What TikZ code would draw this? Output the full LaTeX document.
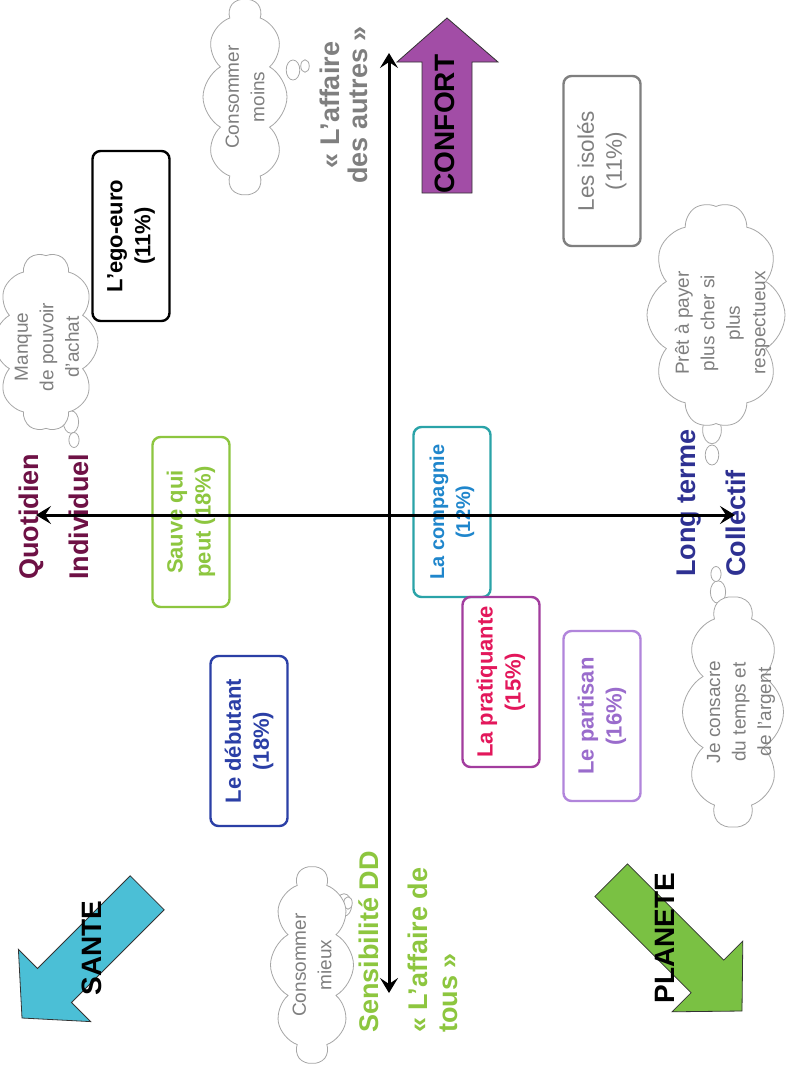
\documentclass[tikz,border=0pt]{standalone}
\usepackage{fontspec}
\setmainfont{Liberation Sans}
\usetikzlibrary{shapes.symbols,arrows.meta}
\definecolor{bordeaux}{HTML}{6E1145}
\definecolor{marine}{HTML}{2E3192}
\definecolor{vertdd}{HTML}{8DC63F}
\definecolor{gristxt}{HTML}{7F7F7F}
\definecolor{bleudeb}{HTML}{2B3FA6}
\definecolor{sarcelle}{HTML}{2AA3A8}
\definecolor{bleucomp}{HTML}{1F86CC}
\definecolor{violetpra}{HTML}{A23D9E}
\definecolor{rosepra}{HTML}{E3175B}
\definecolor{lilas}{HTML}{B185DB}
\definecolor{lilastxt}{HTML}{9A6CCC}
\definecolor{cyansante}{HTML}{4BBFD6}
\definecolor{vertplanete}{HTML}{7AC143}
\definecolor{violetconfort}{HTML}{A24DA6}

\begin{document}
\begin{tikzpicture}[x=1pt,y=-1pt,
	box/.style={draw,rounded corners=8pt,line width=2.4pt,rotate=90,minimum width=170pt,minimum height=77pt,align=center,font=\fontsize{22}{28}\selectfont\bfseries},
	bulle/.style={cloud,cloud puffs=10,cloud puff arc=120,cloud ignores aspect,draw=gray!70,fill=white,line width=0.8pt,rotate=90,inner sep=0pt},
	bulletxt/.style={rotate=90,align=center,text=gristxt,font=\fontsize{19}{25.5}\selectfont},
	queue/.style={draw=gray!70,line width=0.8pt,fill=white},
	lbl/.style={rotate=90,inner sep=0pt,font=\fontsize{27}{30}\selectfont\bfseries},
	fleche/.style={draw=black!80,line width=0.8pt},
	axe/.style={line width=3pt,{Stealth[length=15pt,width=18pt,inset=6pt]}-{Stealth[length=15pt,width=18pt,inset=6pt]}}
	]
	\fill[white] (0,0) rectangle (786,1074);
	\useasboundingbox (0,0) rectangle (786,1074);

	\filldraw[fleche,fill=violetconfort] (422,193) -- (472,193) -- (472,62) -- (498,62) -- (447,18) -- (397,62) -- (422,62) -- cycle;
	\filldraw[fleche,fill=cyansante] (130.2,875.8) -- (164.2,909.8) -- (71.5,1002.5) -- (90.6,1021.6) -- (22,1018) -- (18.4,949.4) -- (37.5,968.5) -- cycle;
	\filldraw[fleche,fill=vertplanete] (627.5,863.9) -- (723.7,960.1) -- (742.8,941.1) -- (742,1011) -- (672,1011.8) -- (691.1,992.7) -- (594.9,896.5) -- cycle;
	\node[lbl,font=\fontsize{28}{30}\selectfont\bfseries] (confort) at (445,124) {CONFORT};
	\node[lbl,font=\fontsize{28}{30}\selectfont\bfseries] (sante) at (92,948) {SANTE};
	\node[lbl,font=\fontsize{28}{30}\selectfont\bfseries] (planete) at (665,938) {PLANETE};

	\foreach \bx/\by/\br in {293/70/8,305/66/5,71/422/9,74/440/6,712/430/11,712/455/8,718/592/9,716/574/6,344/905/9,348/903/5}
		\draw[queue] (\bx,\by) ellipse (\br*0.85 and \br*1.25);
	\node[bulle,minimum width=195pt,minimum height=84pt] (moins) at (245,97) {};
	\node[bulle,minimum width=178pt,minimum height=104pt] (achat) at (46,342) {};
	\node[bulle,minimum width=225pt,minimum height=138pt] (payer) at (716,315) {};
	\node[bulle,minimum width=230pt,minimum height=101pt] (consacre) at (733,712) {};
	\node[bulle,minimum width=196pt,minimum height=83pt] (mieux) at (312,965) {};
	\node[bulletxt] (moinstxt) at (moins) {Consommer\\moins};
	\node[bulletxt] (achattxt) at (47,347) {Manque\\de pouvoir\\d'achat};
	\node[bulletxt] (payertxt) at (722,323) {Prêt à payer\\plus cher si\\plus\\respectueux};
	\node[bulletxt] (consacretxt) at (741,712) {Je consacre\\du temps et\\de l'argent};
	\node[bulletxt] (mieuxtxt) at (mieux) {Consommer\\mieux};

	\node[box,draw=black] (ego) at (131,236) {L'ego-euro\\(11\%)};
	\node[box,draw=gristxt,text=gristxt,font=\fontsize{22.5}{28}\selectfont] (isoles) at (602,161) {Les isolés\\(11\%)};
	\node[box,draw=vertdd,text=vertdd] (sauve) at (191,522) {Sauve qui\\peut (18\%)};
	\node[box,draw=sarcelle,text=bleucomp,font=\fontsize{20}{26}\selectfont\bfseries] (compagnie) at (452,512) {La compagnie\\(12\%)};
	\node[box,draw=violetpra,text=rosepra] (pratiquante) at (501,682) {La pratiquante\\(15\%)};
	\node[box,draw=lilas,text=lilastxt] (partisan) at (602,716) {Le partisan\\(16\%)};
	\node[box,draw=bleudeb,text=bleudeb] (debutant) at (249,741) {Le débutant\\(18\%)};

	\node[lbl,text=bordeaux,anchor=west] (quotidien) at (31,580) {Quotidien};
	\node[lbl,text=bordeaux,anchor=west] (individuel) at (79,580) {Individuel};
	\node[lbl,text=marine,anchor=west] (longterme) at (689,577) {Long terme};
	\node[lbl,text=marine,anchor=west] (collectif) at (736,577) {Collectif};
	\node[lbl,text=vertdd,anchor=west] (sensibilite) at (369,1033) {Sensibilité DD};
	\node[lbl,text=vertdd,anchor=west,align=left] (tous) at (433,1033) {« L'affaire de\\tous »};
	\node[lbl,text=gristxt,align=center,font=\fontsize{27}{28.5}\selectfont\bfseries] (autres) at (344,105) {« L'affaire\\des autres »};

	\coordinate (haut) at (389,53);
	\coordinate (bas) at (389,993);
	\coordinate (gauche) at (36,515);
	\coordinate (droite) at (735,515);
	\draw[axe] (gauche) -- (droite);
	\draw[axe] (bas) -- (haut);
\end{tikzpicture}
\end{document}
